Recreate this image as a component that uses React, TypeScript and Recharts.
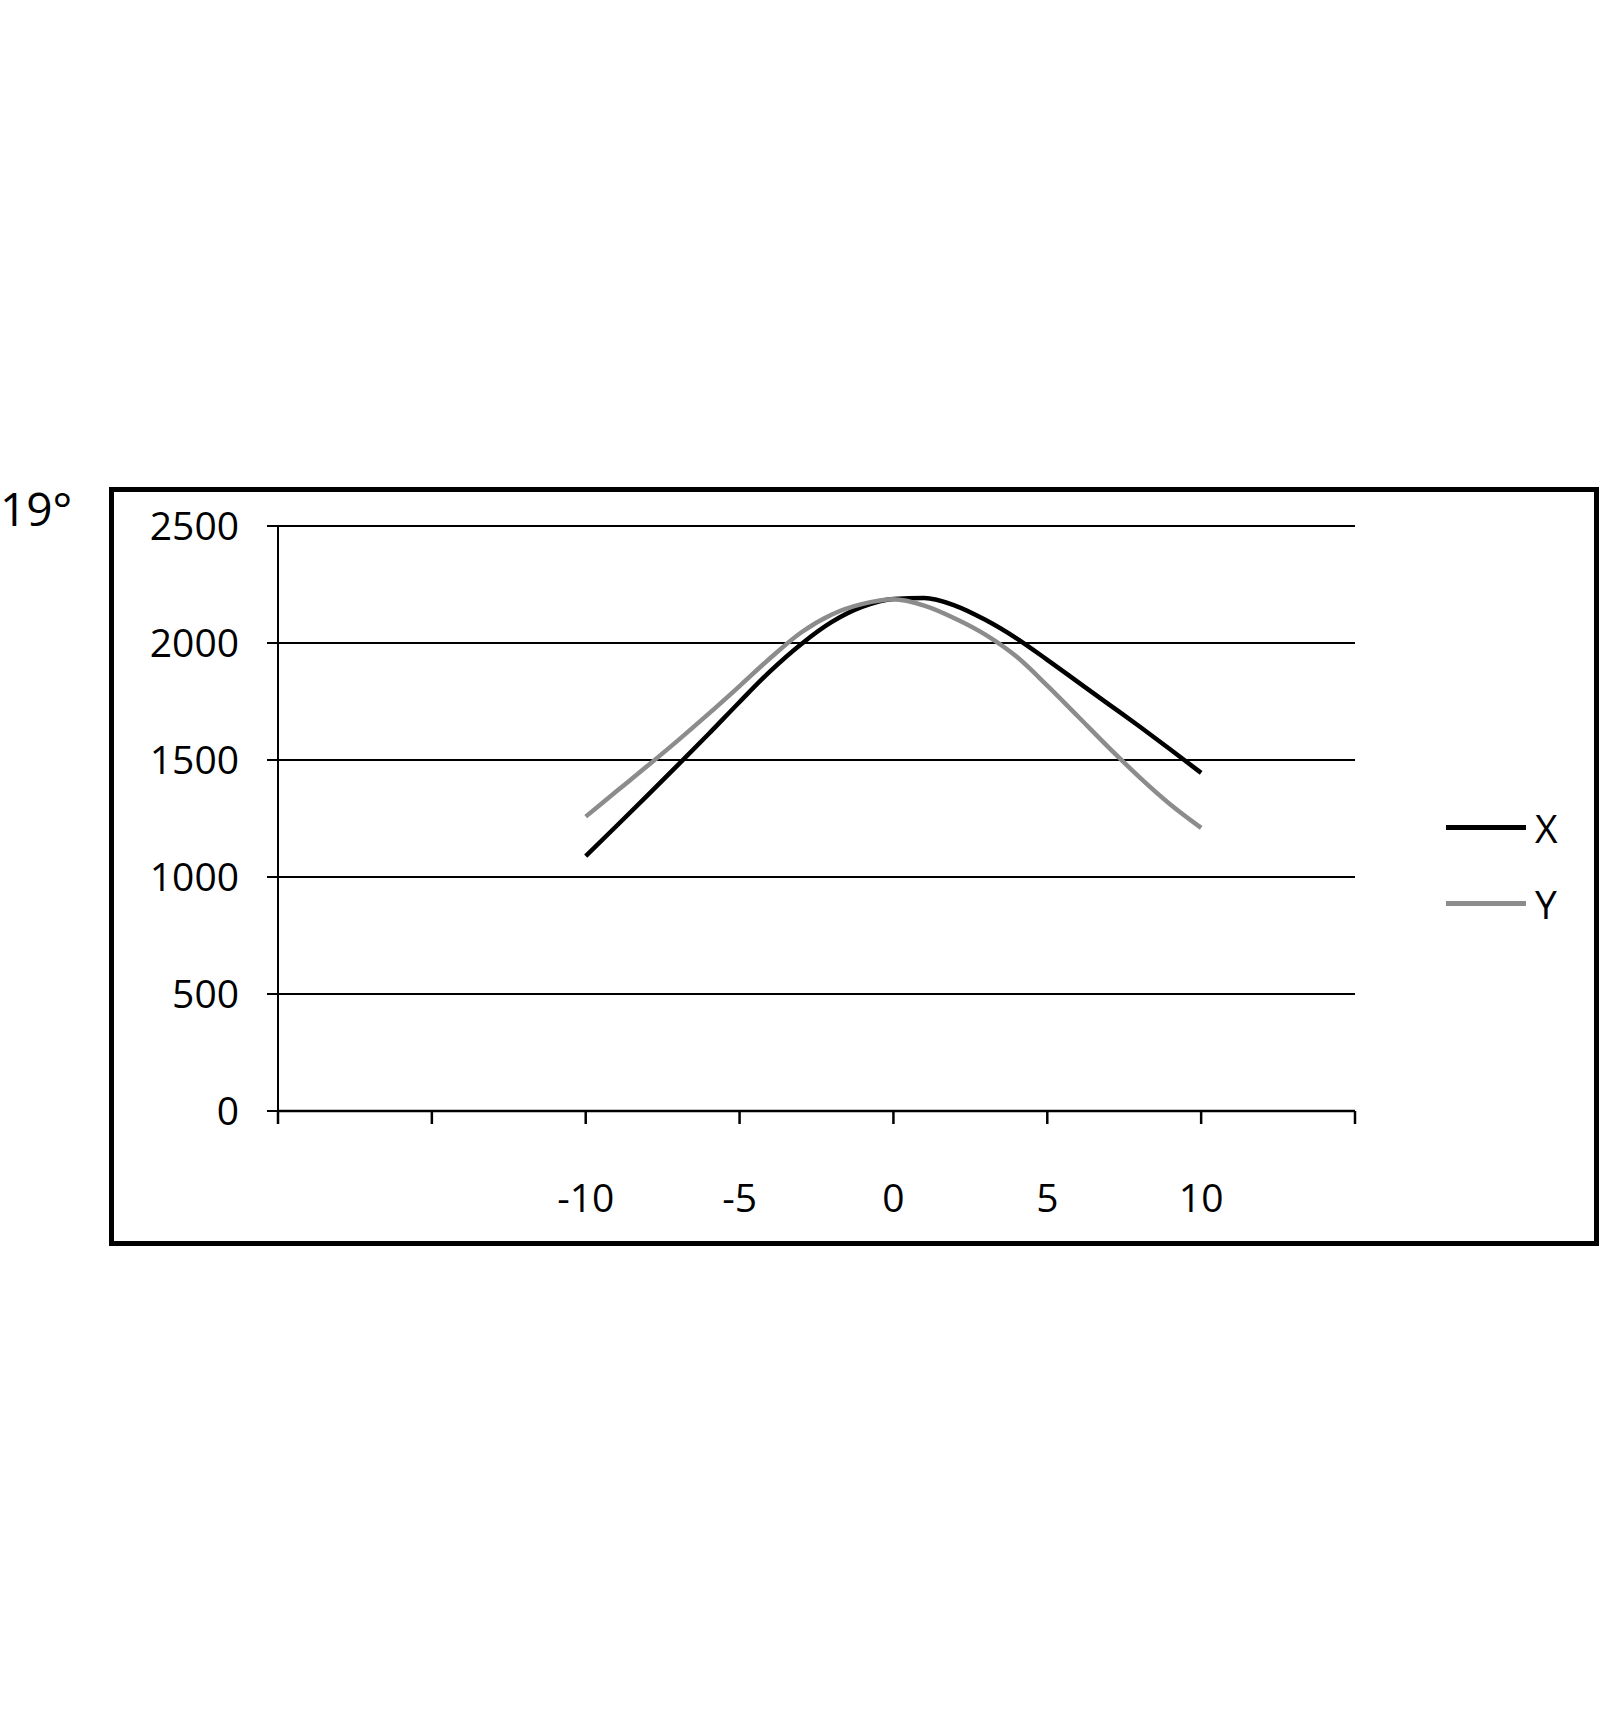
import { CartesianGrid, Legend, Line, LineChart, XAxis, YAxis } from 'recharts'

// values, one point per integer step
const xValues = [-10, -9, -8, -7, -6, -5, -4, -3, -2, -1, 0, 1, 2, 3, 4, 5, 6, 7, 8, 9, 10]
const seriesX = [
  1089, 1218, 1348, 1479, 1612, 1748, 1880, 1995, 2090, 2155, 2188, 2192, 2160, 2098, 2020, 1928,
  1833, 1738, 1643, 1545, 1445,
]
const seriesY = [
  1258, 1366, 1474, 1584, 1698, 1816, 1936, 2045, 2122, 2167, 2187, 2160, 2105, 2035, 1942, 1818,
  1686, 1553, 1426, 1310, 1210,
]

const xTicks = [-20, -15, -10, -5, 0, 5, 10, 15]
const xTickLabels = ['', '', '-10', '-5', '0', '5', '10', '']
const yTicks = [0, 500, 1000, 1500, 2000, 2500]
const panelLabel = '19°'

const chartData = xValues.map((x, i) => ({ x, X: seriesX[i], Y: seriesY[i] }))

const font = '"Open Sans", sans-serif'

const renderLegend = ({ payload }: any) => (
  <div style={{ display: 'flex', flexDirection: 'column' }}>
    {(payload || []).map((entry: any) => (
      <div key={entry.value} style={{ display: 'flex', alignItems: 'center', height: 76 }}>
        <span style={{ display: 'block', width: 80, height: 5, background: entry.color }} />
        <span style={{ marginLeft: 9, fontSize: 39, fontFamily: font, lineHeight: 1, color: '#000' }}>
          {entry.value}
        </span>
      </div>
    ))}
  </div>
)

export default function App() {
  return (
    <div style={{ position: 'absolute', left: 0, top: 0, width: 1600, height: 1710, background: '#fff' }}>
      <div
        style={{
          position: 'absolute',
          left: 0,
          top: 485,
          fontSize: 46,
          lineHeight: 1,
          fontFamily: font,
          color: '#000',
        }}
      >
        {panelLabel}
      </div>
      <div
        style={{
          position: 'absolute',
          left: 109,
          top: 487,
          width: 1490,
          height: 759,
          border: '5px solid #000',
          boxSizing: 'border-box',
        }}
      />
      <div style={{ position: 'absolute', left: 0, top: 0 }}>
        <LineChart
          width={1600}
          height={1710}
          data={chartData}
          margin={{ top: 526, right: 245, bottom: 479, left: 0 }}
        >
          <CartesianGrid vertical={false} stroke="#000" strokeWidth={2} />
          <XAxis
            dataKey="x"
            type="number"
            domain={[-20, 15]}
            ticks={xTicks}
            interval={0}
            height={120}
            tickSize={13}
            tickMargin={60}
            axisLine={{ stroke: '#000', strokeWidth: 2.5 }}
            tickLine={{ stroke: '#000', strokeWidth: 2.5 }}
            tick={{ fill: '#000', fontSize: 39, fontFamily: font }}
            tickFormatter={(v: number) => xTickLabels[xTicks.indexOf(v)] ?? ''}
          />
          <YAxis
            domain={[0, 2500]}
            ticks={yTicks}
            interval={0}
            width={278}
            tickSize={11}
            tickMargin={28}
            axisLine={{ stroke: '#000', strokeWidth: 2 }}
            tickLine={{ stroke: '#000', strokeWidth: 2 }}
            tick={{ fill: '#000', fontSize: 39, fontFamily: font }}
          />
          <Legend
            layout="horizontal"
            align="center"
            verticalAlign="middle"
            content={renderLegend}
            wrapperStyle={{ left: 1446, top: 789, width: 140, height: 152 }}
          />
          <Line
            type="monotone"
            dataKey="X"
            stroke="#000"
            strokeWidth={4.5}
            dot={false}
            isAnimationActive={false}
          />
          <Line
            type="monotone"
            dataKey="Y"
            stroke="#8c8c8c"
            strokeWidth={4.5}
            dot={false}
            isAnimationActive={false}
          />
        </LineChart>
      </div>
    </div>
  )
}
